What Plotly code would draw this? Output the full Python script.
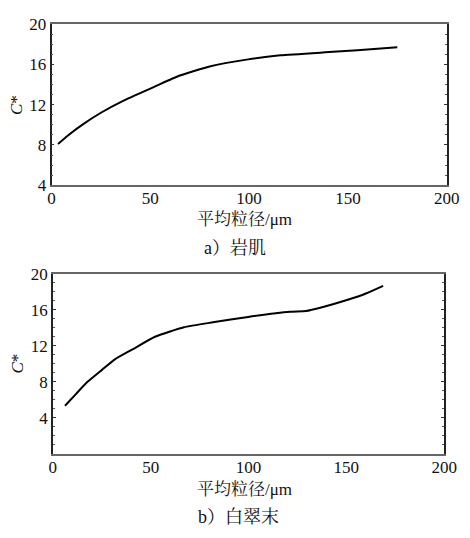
import plotly.graph_objects as go

# Data
x_a = [3.3, 8, 15.5, 25, 36.5, 50, 63.7, 80, 99.5, 115.8, 138.5, 154.8, 175]
y_a = [8.1, 8.9, 10.0, 11.2, 12.4, 13.6, 14.8, 15.8, 16.5, 16.9, 17.2, 17.4, 17.7]

x_b = [6.2, 12, 17.7, 25.1, 31.7, 40.7, 52.2, 67, 81.8, 99.8, 121.2, 129.4, 137.6, 150.7, 160, 168.8]
y_b = [5.35, 6.7, 8.0, 9.33, 10.5, 11.6, 13.0, 14.05, 14.6, 15.2, 15.77, 15.85, 16.27, 17.1, 17.8, 18.65]

x_ticks = [0, 50, 100, 150, 200]
y_ticks = [4, 8, 12, 16, 20]
x_title = "平均粒径/μm"
y_title = "<i>C</i>*"
caption_a = "a）岩肌"
caption_b = "b）白翠末"

W, H = 470, 538
FONT = "Liberation Serif, Times New Roman, serif"
FONT_CJK = "Liberation Serif, Noto Serif CJK SC, Noto Sans CJK SC"

fig = go.Figure()
fig.add_trace(go.Scatter(x=x_a, y=y_a, mode="lines",
                         line=dict(color="black", width=2, shape="spline", smoothing=0.5),
                         xaxis="x", yaxis="y", showlegend=False))
fig.add_trace(go.Scatter(x=x_b, y=y_b, mode="lines",
                         line=dict(color="black", width=2, shape="spline", smoothing=0.5),
                         xaxis="x2", yaxis="y2", showlegend=False))

def px_x(p):
    return p / W

def px_y(p):
    return 1 - p / H

axis_font = dict(family=FONT, size=17, color="#111")

common_x = dict(range=[0, 200], tickvals=x_ticks, showgrid=False, zeroline=False,
                showline=True, linecolor="#666", linewidth=1.5, mirror=True,
                ticks="", tickfont=axis_font, ticklabelstandoff=-3)
common_y = dict(showgrid=False, zeroline=False, showline=True, linecolor="#222", linewidth=1.5,
                mirror="ticks", ticks="inside", ticklen=3, tickcolor="#333",
                tickfont=axis_font, ticklabelstandoff=0,
                minor=dict(dtick=1, ticks="inside", ticklen=2, tickcolor="#555"))

fig.update_layout(
    width=W, height=H,
    margin=dict(l=0, r=0, t=0, b=0),
    paper_bgcolor="white", plot_bgcolor="white",
    xaxis=dict(domain=[px_x(49.3), px_x(459.3)], anchor="y", **common_x),
    yaxis=dict(domain=[px_y(182.7), px_y(15.7)], anchor="x", range=[4, 20], tickvals=y_ticks, **common_y),
    xaxis2=dict(domain=[px_x(50.7), px_x(456.7)], anchor="y2", **common_x),
    yaxis2=dict(domain=[px_y(461.3), px_y(274.3)], anchor="x2", range=[0, 20], tickvals=y_ticks, **common_y),
)

def ann(text, xp, yp, size, angle=0):
    fig.add_annotation(text=text, x=px_x(xp), y=px_y(yp), xref="paper", yref="paper",
                       showarrow=False, textangle=angle, xanchor="center", yanchor="middle",
                       font=dict(family=FONT_CJK, size=size, color="#111"))

ann(x_title, 250, 218, 17)
ann(caption_a, 240, 248, 18)
ann(y_title, 13, 100, 17, -90)
ann(x_title, 250, 498, 17)
ann(caption_b, 243, 527, 18)
ann(y_title, 13, 368, 17, -90)

fig.write_html("out.html")
